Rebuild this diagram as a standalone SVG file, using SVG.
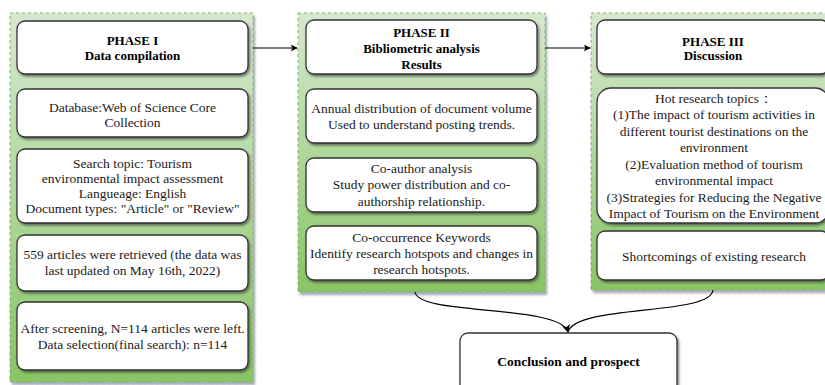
<svg xmlns="http://www.w3.org/2000/svg" width="825" height="385" viewBox="0 0 825 385">
<defs>
<linearGradient id="g" x1="0" y1="0" x2="0" y2="1">
<stop offset="0" stop-color="#d5e8d0"/>
<stop offset="0.35" stop-color="#bcdcac"/>
<stop offset="1" stop-color="#88c464"/>
</linearGradient>
<filter id="sh" x="-10%" y="-10%" width="120%" height="120%">
<feDropShadow dx="2" dy="3" stdDeviation="1.2" flood-color="#6a6a8a" flood-opacity="0.55"/>
</filter>
<filter id="bs" x="-10%" y="-10%" width="120%" height="130%">
<feDropShadow dx="1.5" dy="2" stdDeviation="0.8" flood-color="#333" flood-opacity="0.6"/>
</filter>
<marker id="ah" viewBox="0 0 10 10" refX="9" refY="5" markerWidth="7" markerHeight="7" orient="auto" markerUnits="userSpaceOnUse">
<path d="M0,0 L10,5 L0,10 L2.5,5 Z" fill="#000"/>
</marker>
<marker id="ah2" viewBox="0 0 10 10" refX="9" refY="5" markerWidth="8" markerHeight="8" orient="auto" markerUnits="userSpaceOnUse">
<path d="M0,0 L10,5 L0,10 L2.5,5 Z" fill="#000"/>
</marker>
</defs>
<style>
.cont{fill:url(#g);stroke:#82b366;stroke-width:1;stroke-dasharray:3 3;filter:url(#sh)}
.box{fill:#fff;stroke:#333;stroke-width:1.3;filter:url(#bs)}
text{font-family:"Liberation Serif","Times New Roman",serif;font-size:13.5px;fill:#1a1a1a;text-anchor:middle}
.b{font-weight:bold;font-size:13px;fill:#000}
.conn{fill:none;stroke:#000;stroke-width:1.1}
</style>
<rect width="825" height="385" fill="#fff"/>

<g id="phase1">
<rect class="cont" x="10" y="13" width="243" height="369"/>
<g id="p1-header"><rect class="box" x="17" y="21" width="231" height="53" rx="8"/>
<text class="b" x="132.5" y="44.5">PHASE I</text><text class="b" x="132.5" y="59.5">Data compilation</text></g>
<g id="p1-db"><rect class="box" x="17" y="89" width="231" height="48" rx="8"/>
<text x="132.5" y="111.5">Database:Web of Science Core</text><text x="132.5" y="126.5">Collection</text></g>
<g id="p1-search"><rect class="box" x="17" y="149" width="231" height="74" rx="8"/>
<text x="132.5" y="167.5">Search topic: Tourism</text>
<text x="132.5" y="182.5">environmental impact assessment</text>
<text x="132.5" y="197.5">Langueage: English</text>
<text x="132.5" y="212.5">Document types: "Article" or "Review"</text></g>
<g id="p1-559"><rect class="box" x="17" y="235" width="231" height="56" rx="8"/>
<text x="132.5" y="258.5">559 articles were retrieved (the data was</text>
<text x="132.5" y="275">last updated on May 16th, 2022)</text></g>
<g id="p1-after"><rect class="box" x="17" y="302" width="231" height="68" rx="8"/>
<text x="132.5" y="332.5">After screening, N=114 articles were left.</text>
<text x="132.5" y="348.5">Data selection(final search): n=114</text></g>
</g>

<g id="phase2">
<rect class="cont" x="298" y="13" width="247" height="279"/>
<g id="p2-header"><rect class="box" x="306" y="20" width="231" height="54" rx="8"/>
<text class="b" x="421.5" y="36.5">PHASE II</text><text class="b" x="421.5" y="52.5">Bibliometric analysis</text><text class="b" x="421.5" y="68.5">Results</text></g>
<g id="p2-annual"><rect class="box" x="306" y="89" width="231" height="54" rx="8"/>
<text x="421.5" y="112.5">Annual distribution of document volume</text>
<text x="421.5" y="128.5">Used to understand posting trends.</text></g>
<g id="p2-coauthor"><rect class="box" x="306" y="158" width="231" height="54" rx="8"/>
<text x="421.5" y="173">Co-author analysis</text>
<text x="421.5" y="189">Study power distribution and co-</text>
<text x="421.5" y="205.5">authorship relationship.</text></g>
<g id="p2-cooc"><rect class="box" x="306" y="226" width="231" height="54" rx="8"/>
<text x="421.5" y="241.5">Co-occurrence Keywords</text>
<text x="421.5" y="257.5">Identify research hotspots and changes in</text>
<text x="421.5" y="273.5">research hotspots.</text></g>
</g>

<g id="phase3">
<rect class="cont" x="591" y="13" width="245" height="277"/>
<g id="p3-header"><rect class="box" x="597" y="20" width="232" height="54" rx="8"/>
<text class="b" x="713" y="45.5">PHASE III</text><text class="b" x="713" y="59.5">Discussion</text></g>
<g id="p3-hot"><rect class="box" x="597" y="88" width="232" height="135" rx="14"/>
<text x="714" y="102.5">Hot research topics：</text>
<text x="714" y="119">(1)The impact of tourism activities in</text>
<text x="714" y="135.5">different tourist destinations on the</text>
<text x="714" y="152">environment</text>
<text x="714" y="168.5">(2)Evaluation method of tourism</text>
<text x="714" y="185">environmental impact</text>
<text x="714" y="201.5">(3)Strategies for Reducing the Negative</text>
<text x="714" y="218">Impact of Tourism on the Environment</text></g>
<g id="p3-short"><rect class="box" x="597" y="231" width="232" height="49" rx="8"/>
<text x="714" y="260.5">Shortcomings of existing research</text></g>
</g>

<g id="conclusion"><rect class="box" x="460" y="333" width="217" height="60" rx="8"/>
<text class="b" x="568.5" y="365.5" style="font-size:13.5px">Conclusion and prospect</text></g>

<g id="connectors">
<path class="conn" d="M253,48 L297,48" marker-end="url(#ah)"/>
<path class="conn" d="M545,48 L590,48" marker-end="url(#ah)"/>
<path class="conn" d="M415,292 C418,316 560,304 568,332" marker-end="url(#ah2)"/>
<path class="conn" d="M713,290 C711,316 576,304 568,332"/>
</g>
</svg>
